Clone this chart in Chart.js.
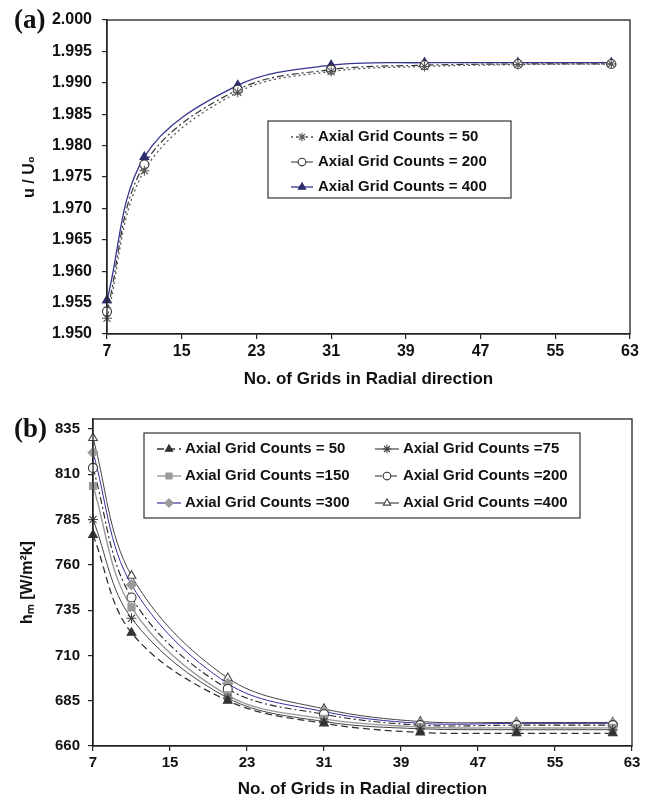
<!DOCTYPE html>
<html><head><meta charset="utf-8">
<script src="https://cdn.jsdelivr.net/npm/chart.js@4/dist/chart.umd.min.js"></script>
<style>
html,body{margin:0;padding:0;background:#fff;}
#wrap{position:relative;width:650px;height:803px;overflow:hidden;}
.lab{position:absolute;font-family:'Liberation Serif','DejaVu Serif',serif;font-weight:bold;font-size:27px;line-height:27px;color:#111;}
.cv{position:absolute;left:0;}
</style></head><body>
<div id="wrap">
<canvas id="a" class="cv" width="650" height="400" style="top:0"></canvas>
<canvas id="b" class="cv" width="650" height="403" style="top:400px"></canvas>
<div class="lab" style="left:14px;top:6px">(a)</div>
<div class="lab" style="left:14px;top:415px">(b)</div>
</div>
<script>
// ---------- data ----------
const radialGrids = [7, 11, 21, 31, 41, 51, 61];
const xTicks = [7, 15, 23, 31, 39, 47, 55, 63];

// (a) u/U0
const uA50  = [1.9525, 1.9760, 1.9885, 1.9918, 1.9926, 1.9929, 1.9930];
const uA200 = [1.9536, 1.9770, 1.9889, 1.9921, 1.9928, 1.9930, 1.9930];
const uA400 = [1.9554, 1.9782, 1.9896, 1.9928, 1.9932, 1.9932, 1.9932];
const yTicksA = [1.950, 1.955, 1.960, 1.965, 1.970, 1.975, 1.980, 1.985, 1.990, 1.995, 2.000];

// (b) h_m
const hB50  = [776.5, 722.5, 685.0, 672.5, 667.5, 667.0, 667.0];
const hB75  = [785.0, 730.5, 686.5, 673.5, 669.5, 669.0, 669.0];
const hB150 = [803.5, 736.5, 688.0, 675.0, 670.5, 670.0, 670.0];
const hB200 = [813.5, 742.0, 691.5, 677.5, 671.5, 671.5, 671.5];
const hB300 = [822.0, 749.0, 694.5, 679.0, 672.5, 672.5, 672.5];
const hB400 = [830.0, 754.0, 697.5, 680.5, 673.5, 673.0, 673.0];
const yTicksB = [660, 685, 710, 735, 760, 785, 810, 835];

const pts = arr => radialGrids.map((x, i) => ({x, y: arr[i]}));

// ---------- plugins ----------
const frame = {
  id: 'frame',
  afterDatasetsDraw(chart) {
    const {ctx, chartArea: a} = chart;
    ctx.save();
    ctx.strokeStyle = '#222'; ctx.lineWidth = 1.3;
    ctx.strokeRect(a.left, a.top, a.right - a.left, a.bottom - a.top);
    ctx.restore();
  }
};
const insideLegend = {
  id: 'insideLegend',
  afterDraw(chart, args, opts) {
    if (!opts || !opts.box) return;
    const ctx = chart.ctx, b = opts.box;
    ctx.save();
    ctx.fillStyle = '#fff';
    ctx.fillRect(b.x, b.y, b.w, b.h);
    ctx.strokeStyle = '#333'; ctx.lineWidth = 1.2;
    ctx.strokeRect(b.x, b.y, b.w, b.h);
    ctx.font = opts.font; ctx.textBaseline = 'middle';
    opts.items.forEach(it => {
      const ds = chart.data.datasets[it.i];
      ctx.save();
      ctx.strokeStyle = ds.borderColor; ctx.lineWidth = Math.max(ds.borderWidth, 1.2);
      ctx.setLineDash(ds.borderDash || []);
      ctx.beginPath(); ctx.moveTo(it.x, it.y); ctx.lineTo(it.x + opts.len, it.y); ctx.stroke();
      ctx.setLineDash([]);
      ctx.fillStyle = ds.pointBackgroundColor; ctx.strokeStyle = ds.pointBorderColor;
      ctx.lineWidth = ds.pointBorderWidth;
      Chart.helpers.drawPoint(ctx, {pointStyle: ds.pointStyle, radius: ds.pointRadius * 0.85, rotation: 0, borderWidth: ds.pointBorderWidth}, it.x + opts.len / 2, it.y);
      ctx.restore();
      ctx.fillStyle = '#111';
      ctx.fillText(ds.label, it.x + opts.len + opts.gap, it.y);
    });
    ctx.restore();
  }
};

const FONT = "'Liberation Sans', Arial, sans-serif";
function axisCommon(extra) {
  return Object.assign({
    grid: {display: true, drawOnChartArea: false, drawTicks: true, tickLength: 5, color: '#222', lineWidth: 1.2},
    border: {display: true, color: '#222', width: 1.3},
  }, extra);
}
function ds(label, arr, o) {
  return Object.assign({label, data: pts(arr), tension: 0.35, clip: false,
    pointBorderWidth: 1.1, pointHoverRadius: 0}, o);
}

Chart.defaults.font.family = FONT;
Chart.defaults.color = '#111';

// ---------- chart (a) ----------
new Chart(document.getElementById('a'), {
  type: 'line',
  data: { datasets: [
    ds('Axial Grid Counts = 50', uA50, {borderColor: '#555', borderWidth: 1.3, borderDash: [2, 3],
      pointStyle: 'star', pointRadius: 5, pointBackgroundColor: '#555', pointBorderColor: '#555'}),
    ds('Axial Grid Counts = 200', uA200, {borderColor: '#333', borderWidth: 1.2, borderDash: [7, 3, 2, 3],
      pointStyle: 'circle', pointRadius: 4.5, pointBackgroundColor: '#fff', pointBorderColor: '#333'}),
    ds('Axial Grid Counts = 400', uA400, {borderColor: '#35358f', borderWidth: 1.3,
      pointStyle: 'triangle', pointRadius: 5, pointBackgroundColor: '#2c2c70', pointBorderColor: '#2c2c70'}),
  ]},
  options: {
    responsive: false, animation: false, devicePixelRatio: 1,
    layout: {padding: {left: 0, right: 20, top: 20, bottom: 0}},
    plugins: {
      legend: {display: false}, tooltip: {enabled: false},
      insideLegend: {
        box: {x: 268, y: 121, w: 243, h: 77}, font: "bold 15px " + FONT, len: 22, gap: 5,
        items: [{i: 0, x: 291, y: 137}, {i: 1, x: 291, y: 162}, {i: 2, x: 291, y: 187}]
      }
    },
    scales: {
      x: axisCommon({type: 'linear', min: 7, max: 63,
        afterBuildTicks: s => { s.ticks = xTicks.map(v => ({value: v})); },
        afterFit: s => { s.height = 66; },
        ticks: {font: {size: 16, weight: 'bold'}, padding: 3, maxRotation: 0, callback: v => v},
        title: {display: true, text: 'No. of Grids in Radial direction', font: {size: 17, weight: 'bold'}, padding: {top: 0, bottom: 10}}
      }),
      y: axisCommon({type: 'linear', min: 1.95, max: 2.0,
        afterBuildTicks: s => { s.ticks = yTicksA.map(v => ({value: v})); },
        afterFit: s => { s.width = 107; },
        ticks: {font: {size: 16, weight: 'bold'}, padding: 10, callback: v => v.toFixed(3)},
        title: {display: true, text: 'u / U\u2080', font: {size: 16, weight: 'bold'}, padding: {top: 20, bottom: 0}}
      })
    }
  },
  plugins: [frame, insideLegend]
});

// ---------- chart (b) ----------
new Chart(document.getElementById('b'), {
  type: 'line',
  data: { datasets: [
    ds('Axial Grid Counts = 50', hB50, {borderColor: '#333', borderWidth: 1.3, borderDash: [7, 4],
      pointStyle: 'triangle', pointRadius: 5, pointBackgroundColor: '#333', pointBorderColor: '#333'}),
    ds('Axial Grid Counts =75', hB75, {borderColor: '#444', borderWidth: 1,
      pointStyle: 'star', pointRadius: 5, pointBackgroundColor: '#444', pointBorderColor: '#444'}),
    ds('Axial Grid Counts =150', hB150, {borderColor: '#999', borderWidth: 1.4,
      pointStyle: 'rect', pointRadius: 5, pointBackgroundColor: '#9a9a9a', pointBorderColor: '#9a9a9a'}),
    ds('Axial Grid Counts =200', hB200, {borderColor: '#222', borderWidth: 1.1, borderDash: [7, 3, 2, 3],
      pointStyle: 'circle', pointRadius: 4.5, pointBackgroundColor: '#fff', pointBorderColor: '#333'}),
    ds('Axial Grid Counts =300', hB300, {borderColor: '#3030a0', borderWidth: 1,
      pointStyle: 'rectRot', pointRadius: 5, pointBackgroundColor: '#9a9a9a', pointBorderColor: '#9a9a9a'}),
    ds('Axial Grid Counts =400', hB400, {borderColor: '#444', borderWidth: 1,
      pointStyle: 'triangle', pointRadius: 5, pointBackgroundColor: '#fff', pointBorderColor: '#444'}),
  ]},
  options: {
    responsive: false, animation: false, devicePixelRatio: 1,
    layout: {padding: {left: 0, right: 18, top: 19, bottom: 0}},
    plugins: {
      legend: {display: false}, tooltip: {enabled: false},
      insideLegend: {
        box: {x: 144, y: 33, w: 436, h: 85}, font: "bold 15px " + FONT, len: 24, gap: 4,
        items: [{i: 0, x: 157, y: 49}, {i: 1, x: 375, y: 49},
                {i: 2, x: 157, y: 76}, {i: 3, x: 375, y: 76},
                {i: 4, x: 157, y: 103}, {i: 5, x: 375, y: 103}]
      }
    },
    scales: {
      x: axisCommon({type: 'linear', min: 7, max: 63,
        afterBuildTicks: s => { s.ticks = xTicks.map(v => ({value: v})); },
        afterFit: s => { s.height = 57; },
        ticks: {font: {size: 15, weight: 'bold'}, padding: 3, maxRotation: 0, callback: v => v},
        title: {display: true, text: 'No. of Grids in Radial direction', font: {size: 17, weight: 'bold'}, padding: {top: 0, bottom: 3}}
      }),
      y: axisCommon({type: 'linear', min: 660, max: 840.5,
        afterBuildTicks: s => { s.ticks = yTicksB.map(v => ({value: v})); },
        afterFit: s => { s.width = 93; },
        ticks: {font: {size: 15, weight: 'bold'}, padding: 8, callback: v => v},
        title: {display: true, text: 'h\u2098 [W/m\u00B2k]', font: {size: 16, weight: 'bold'}, padding: {top: 18, bottom: 0}}
      })
    }
  },
  plugins: [frame, insideLegend]
});
</script>
</body></html>
